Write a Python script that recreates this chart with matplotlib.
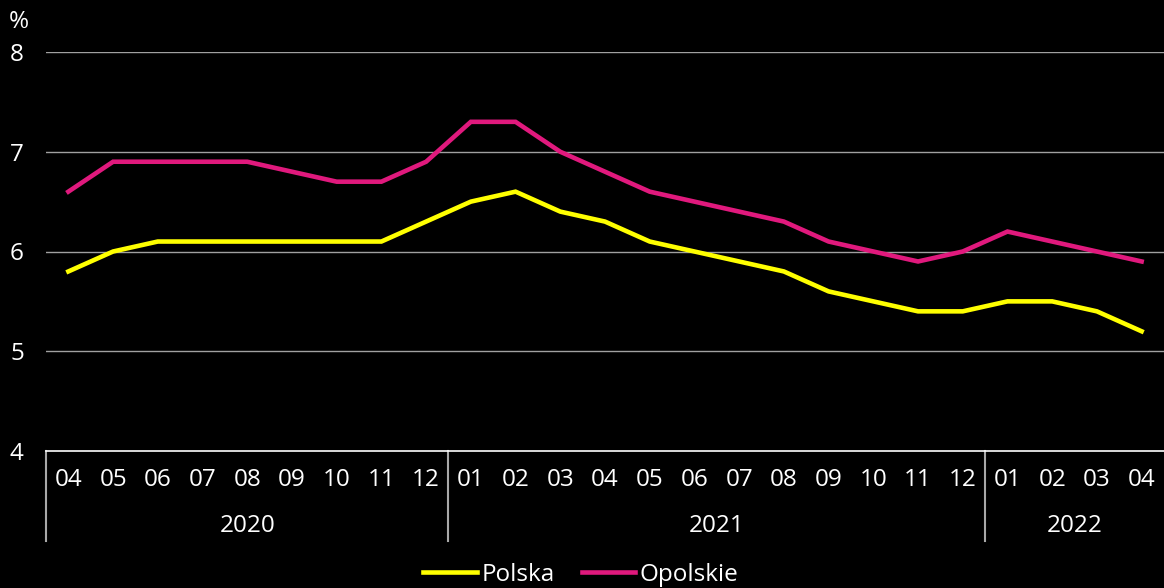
import matplotlib
matplotlib.use("Agg")
import matplotlib.pyplot as plt
from matplotlib.lines import Line2D
from matplotlib.transforms import blended_transform_factory, ScaledTranslation

months = ["04", "05", "06", "07", "08", "09", "10", "11", "12",
          "01", "02", "03", "04", "05", "06", "07", "08", "09", "10", "11", "12",
          "01", "02", "03", "04"]
years = ["2020", "2021", "2022"]
year_counts = [9, 12, 4]
polska = [5.8, 6.0, 6.1, 6.1, 6.1, 6.1, 6.1, 6.1, 6.3, 6.5, 6.6, 6.4, 6.3,
          6.1, 6.0, 5.9, 5.8, 5.6, 5.5, 5.4, 5.4, 5.5, 5.5, 5.4, 5.2]
opolskie = [6.6, 6.9, 6.9, 6.9, 6.9, 6.8, 6.7, 6.7, 6.9, 7.3, 7.3, 7.0, 6.8,
            6.6, 6.5, 6.4, 6.3, 6.1, 6.0, 5.9, 6.0, 6.2, 6.1, 6.0, 5.9]

plt.rcParams["font.family"] = ["Open Sans", "DejaVu Sans"]
FS = 17.5
W, H = 1164, 588
fig = plt.figure(figsize=(W / 100, H / 100), dpi=100, facecolor="black")
ax = fig.add_axes([46 / W, 1 - 451 / H, 1 - 46 / W, (451 - 52) / H], facecolor="black")

x = [i + 0.5 for i in range(len(months))]
ax.plot(x, polska, color="#FFFF00", lw=3.3, label="Polska", solid_joinstyle="miter")
ax.plot(x, opolskie, color="#E0197D", lw=3.3, label="Opolskie", solid_joinstyle="miter")

ax.set_xlim(0, len(months))
ax.set_ylim(4, 8)
ax.set_yticks([4, 5, 6, 7, 8])
ax.set_yticklabels(["4", "5", "6", "7", "8"])
ax.tick_params(axis="y", length=0, pad=16, labelsize=FS, labelcolor="white")
ax.set_xticks([])
for y in [5, 6, 7, 8]:
    ax.axhline(y, color="#A0A0A0", lw=1.0, zorder=0)
for s in ["left", "right", "top"]:
    ax.spines[s].set_visible(False)
ax.spines["bottom"].set_color("white")
ax.spines["bottom"].set_linewidth(1.2)

trans = blended_transform_factory(ax.transData, ax.transAxes)
off_m = ScaledTranslation(0, -29 / 100, fig.dpi_scale_trans)
off_y = ScaledTranslation(0, -75 / 100, fig.dpi_scale_trans)
for xi, m in zip(x, months):
    ax.text(xi, 0, m, transform=trans + off_m, ha="center", va="center",
            color="white", fontsize=FS)

start = 0
bounds = [0]
for yr, c in zip(years, year_counts):
    ax.text(start + c / 2, 0, yr, transform=trans + off_y, ha="center", va="center",
            color="white", fontsize=FS)
    start += c
    bounds.append(start)
for b in bounds[:-1]:
    ln = Line2D([b, b], [0, -90 / 399], transform=trans, color="#A8A8A8", lw=1.5,
                clip_on=False)
    ax.add_line(ln)

fig.text(19 / W, 1 - 22 / H, "%", ha="center", va="center", color="white", fontsize=FS)

leg = fig.legend(loc="center", bbox_to_anchor=(581 / W, 1 - 575 / H), ncol=2,
                 frameon=False, fontsize=FS, handlelength=2.2, handletextpad=0.2,
                 columnspacing=1.1, borderaxespad=0, borderpad=0)
for t in leg.get_texts():
    t.set_color("white")

fig.savefig("out.png", dpi=100, facecolor="black")
